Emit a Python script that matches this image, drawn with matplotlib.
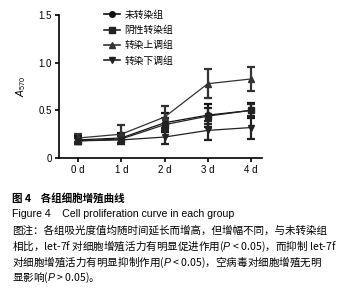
import matplotlib
matplotlib.use("Agg")
import matplotlib.pyplot as plt
from matplotlib.lines import Line2D

plt.rcParams['font.family'] = ['Liberation Sans', 'Noto Sans CJK SC', 'DejaVu Sans']
plt.rcParams['mathtext.fontset'] = 'custom'
plt.rcParams['mathtext.it'] = 'Liberation Sans:italic'
plt.rcParams['mathtext.rm'] = 'Liberation Sans'

days = ["0 d", "1 d", "2 d", "3 d", "4 d"]
groups = ["未转染组", "阴性转染组", "转染上调组", "转染下调组"]
markers = ["o", "s", "^", "v"]
untrans = [0.19, 0.21, 0.37, 0.45, 0.50]
untrans_err = [0.04, 0.05, 0.10, 0.12, 0.08]
negative = [0.18, 0.20, 0.35, 0.44, 0.50]
negative_err = [0.03, 0.04, 0.07, 0.08, 0.07]
up = [0.21, 0.25, 0.43, 0.78, 0.83]
up_err = [0.04, 0.10, 0.12, 0.15, 0.13]
down = [0.18, 0.19, 0.22, 0.29, 0.32]
down_err = [0.03, 0.04, 0.07, 0.10, 0.12]

series = [untrans, negative, up, down]
errs = [untrans_err, negative_err, up_err, down_err]
colors = ["#111111", "#222222", "#333333", "#222222"]

fig = plt.figure(figsize=(3.45, 2.91), dpi=100)
ax = fig.add_axes([0.171, 0.457, 0.588, 0.491])
x = list(range(len(days)))
for vals, e, m, c in zip(series, errs, markers, colors):
    ax.errorbar(x, vals, yerr=e, color=c, marker=m, markersize=4, lw=0.9,
                elinewidth=1.6, capsize=3, capthick=1.6)

ax.set_xlim(-0.44, 4.25)
ax.set_ylim(0, 1.5)
ax.set_yticks([0, 0.5, 1.0, 1.5])
ax.set_yticklabels(["0", "0.5", "1.0", "1.5"], fontsize=7)
ax.set_xticks(x)
ax.set_xticklabels(days, fontsize=7)
for s in ["top", "right"]:
    ax.spines[s].set_visible(False)
for s in ["left", "bottom"]:
    ax.spines[s].set_linewidth(1.2)
ax.tick_params(width=1.2, length=3, pad=2)
ax.set_ylabel("$A_{570}$", fontsize=7.5, labelpad=8)

handles = [Line2D([0], [0], color=c, marker=m, markersize=4, lw=1.2)
           for m, c in zip(markers, colors)]
ax.legend(handles, groups, loc="upper left", bbox_to_anchor=(0.18, 1.1),
          frameon=False, handlelength=1.6, handletextpad=0.5,
          labelspacing=0.55, prop={'family': ['Noto Sans CJK SC'], 'size': 7})

fs = 7.6
fig.text(0.035, 1 - 198/291, "图 4    各组细胞增殖曲线", fontsize=fs, fontweight="bold",
         va="center", family=['Noto Sans CJK SC'])
fig.text(0.035, 1 - 214/291, "Figure 4    Cell proliferation curve in each group", fontsize=fs,
         va="center", family=['Liberation Sans'])
lines = [
    "图注：各组吸光度值均随时间延长而增高，但增幅不同，与未转染组",
    "相比，let-7f 对细胞增殖活力有明显促进作用($P$ < 0.05)，而抑制 let-7f",
    "对细胞增殖活力有明显抑制作用($P$ < 0.05)，空病毒对细胞增殖无明",
    "显影响($P$ > 0.05)。",
]
for i, t in enumerate(lines):
    fig.text(0.035, 1 - (230 + 16*i)/291, t, fontsize=fs, va="center",
             family=['Noto Sans CJK SC', 'Liberation Sans'])

fig.savefig("out.png", dpi=100)
